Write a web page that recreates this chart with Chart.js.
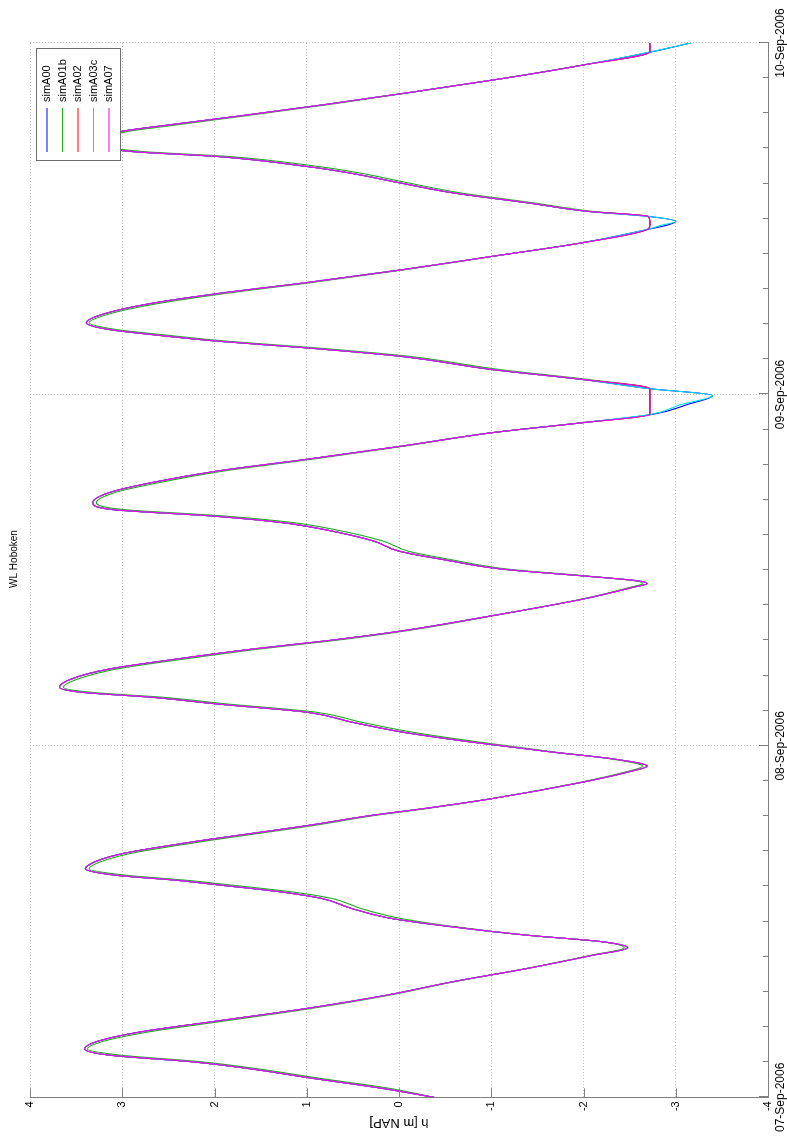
<!DOCTYPE html>
<html>
<head>
<meta charset="utf-8">
<title>WL Hoboken</title>
<script src="https://cdn.jsdelivr.net/npm/chart.js@4.4.1/dist/chart.umd.min.js"></script>
<style>
    html, body { margin: 0; padding: 0; background: #fff; overflow: hidden; }
    /* the figure is drawn landscape and then turned a quarter to the left */
    #wrap {
        position: absolute; left: 0; top: 0;
        width: 1137px; height: 787px;
        transform-origin: 0 0;
        transform: translateY(1137px) rotate(-90deg);
    }
</style>
</head>
<body>
<div id="wrap"><canvas id="wlChart" width="1137" height="787"></canvas></div>
<script>
// hours after 07-Sep-2006 00:00
var hours = [
    0, 0.61, 1.30, 1.98, 2.43, 2.88, 3.30, 3.80, 4.48, 5.16,
    6.07, 6.98, 7.89, 8.80, 9.70, 10.21, 10.62, 11.07, 11.64, 12.20,
    12.89, 13.57, 14.02, 14.48, 14.82, 15.16, 15.61, 16.07, 16.64, 17.43,
    18.57, 19.25, 19.70, 20.39, 21.52, 22.21, 22.62, 23.11, 23.57, 24.25,
    24.94, 25.62, 26.30, 26.86, 27.32, 27.66, 28.00, 28.57, 29.25, 29.93,
    30.61, 31.18, 31.86, 32.89, 34.02, 34.82, 35.09, 35.27, 35.61, 36.07,
    36.70, 37.30, 38.00, 38.80, 39.25, 39.70, 40.16, 40.62, 41.30, 41.98,
    42.77, 43.57, 44.48, 45.39, 46.07, 46.64, 47.30, 47.93, 48.39, 49.02,
    49.70, 50.61, 51.18, 51.64, 52.09, 52.43, 52.89, 53.50, 54.20, 54.90,
    55.64, 56.52, 57.43, 58.36, 59.30, 59.55, 59.82, 60.16, 60.50, 61.09,
    61.77, 62.45, 63.14, 63.57, 64.25, 64.59, 65.20, 65.95, 66.40, 67.00,
    67.80, 68.70, 69.60, 70.50, 71.41, 72.00
];

// water level h [m NAP] per run
var simA00 = [
    -0.38, 0.18, 0.94, 1.65, 2.25, 3.14, 3.41, 3.28, 2.79, 2.03,
    1.00, 0.13, -0.58, -1.39, -2.10, -2.48, -2.21, -1.39, -0.58, 0.07,
    0.51, 0.83, 1.27, 1.92, 2.41, 3.06, 3.40, 3.30, 3.00, 2.25,
    0.98, 0.30, -0.25, -1.00, -1.99, -2.48, -2.69, -2.32, -1.67, -0.80,
    -0.04, 0.51, 1.00, 1.97, 2.68, 3.44, 3.68, 3.55, 3.14, 2.41,
    1.59, 0.78, -0.04, -1.01, -1.99, -2.53, -2.69, -2.59, -1.99, -1.12,
    -0.50, 0.00, 0.28, 0.83, 1.27, 2.03, 3.14, 3.32, 3.14, 2.68,
    1.97, 1.00, -0.04, -1.01, -1.99, -2.75, -3.12, -3.40, -2.72, -1.99,
    -1.01, -0.01, 1.00, 1.97, 2.68, 3.14, 3.39, 3.20, 2.70, 1.95,
    1.00, -0.04, -1.01, -1.99, -2.72, -2.90, -3.00, -2.70, -2.05, -1.39,
    -0.58, -0.01, 0.55, 1.00, 1.97, 2.90, 3.38, 3.02, 2.50, 1.75,
    0.80, -0.20, -1.15, -2.00, -2.75, -3.16
];
var simA01b = [
    -0.38, 0.10, 0.86, 1.57, 2.15, 3.02, 3.38, 3.22, 2.70, 1.95,
    0.95, 0.10, -0.60, -1.39, -2.08, -2.44, -2.20, -1.40, -0.62, -0.03,
    0.41, 0.72, 1.15, 1.80, 2.30, 2.95, 3.36, 3.24, 2.92, 2.17,
    0.92, 0.26, -0.28, -1.00, -1.97, -2.45, -2.64, -2.30, -1.70, -0.88,
    -0.14, 0.41, 0.90, 1.86, 2.56, 3.34, 3.64, 3.48, 3.06, 2.33,
    1.52, 0.72, -0.08, -1.03, -1.98, -2.50, -2.64, -2.56, -2.03, -1.18,
    -0.58, -0.10, 0.18, 0.72, 1.15, 1.90, 3.02, 3.28, 3.08, 2.60,
    1.90, 0.95, -0.07, -1.02, -1.98, -2.72, -2.72, -2.72, -2.72, -2.05,
    -1.09, -0.10, 0.90, 1.87, 2.58, 3.06, 3.36, 3.14, 2.62, 1.88,
    0.95, -0.07, -1.02, -1.98, -2.70, -2.72, -2.72, -2.70, -2.10, -1.45,
    -0.66, -0.10, 0.44, 0.88, 1.85, 2.78, 3.34, 2.95, 2.42, 1.70,
    0.76, -0.22, -1.15, -1.99, -2.72, -2.72
];
var simA02 = [
    -0.38, 0.18, 0.94, 1.65, 2.25, 3.14, 3.41, 3.28, 2.79, 2.03,
    1.00, 0.13, -0.58, -1.39, -2.10, -2.48, -2.21, -1.39, -0.58, 0.07,
    0.51, 0.83, 1.27, 1.92, 2.41, 3.06, 3.40, 3.30, 3.00, 2.25,
    0.98, 0.30, -0.25, -1.00, -1.99, -2.48, -2.69, -2.32, -1.67, -0.80,
    -0.04, 0.51, 1.00, 1.97, 2.68, 3.44, 3.68, 3.55, 3.14, 2.41,
    1.59, 0.78, -0.04, -1.01, -1.99, -2.53, -2.69, -2.59, -1.99, -1.12,
    -0.50, 0.00, 0.28, 0.83, 1.27, 2.03, 3.14, 3.32, 3.14, 2.68,
    1.97, 1.00, -0.04, -1.01, -1.99, -2.72, -2.72, -2.72, -2.72, -1.99,
    -1.01, -0.01, 1.00, 1.97, 2.68, 3.14, 3.39, 3.20, 2.70, 1.95,
    1.00, -0.04, -1.01, -1.99, -2.70, -2.72, -2.72, -2.70, -2.05, -1.39,
    -0.58, -0.01, 0.55, 1.00, 1.97, 2.90, 3.38, 3.02, 2.50, 1.75,
    0.80, -0.20, -1.15, -2.00, -2.72, -2.72
];
var simA03c = [
    -0.38, 0.18, 0.94, 1.65, 2.25, 3.14, 3.41, 3.28, 2.79, 2.03,
    1.00, 0.13, -0.58, -1.39, -2.10, -2.48, -2.21, -1.39, -0.58, 0.07,
    0.51, 0.83, 1.27, 1.92, 2.41, 3.06, 3.40, 3.30, 3.00, 2.25,
    0.98, 0.30, -0.25, -1.00, -1.99, -2.48, -2.69, -2.32, -1.67, -0.80,
    -0.04, 0.51, 1.00, 1.97, 2.68, 3.44, 3.68, 3.55, 3.14, 2.41,
    1.59, 0.78, -0.04, -1.01, -1.99, -2.53, -2.69, -2.59, -1.99, -1.12,
    -0.50, 0.00, 0.28, 0.83, 1.27, 2.03, 3.14, 3.32, 3.14, 2.68,
    1.97, 1.00, -0.04, -1.01, -1.99, -2.73, -3.05, -3.40, -2.72, -1.99,
    -1.01, -0.01, 1.00, 1.97, 2.68, 3.14, 3.39, 3.20, 2.70, 1.95,
    1.00, -0.04, -1.01, -1.99, -2.71, -2.84, -3.00, -2.70, -2.05, -1.39,
    -0.58, -0.01, 0.55, 1.00, 1.97, 2.90, 3.38, 3.02, 2.50, 1.75,
    0.80, -0.20, -1.15, -2.00, -2.74, -3.16
];
var simA07 = [
    -0.38, 0.18, 0.94, 1.65, 2.25, 3.14, 3.41, 3.28, 2.79, 2.03,
    1.00, 0.13, -0.58, -1.39, -2.10, -2.48, -2.21, -1.39, -0.58, 0.07,
    0.51, 0.83, 1.27, 1.92, 2.41, 3.06, 3.40, 3.30, 3.00, 2.25,
    0.98, 0.30, -0.25, -1.00, -1.99, -2.48, -2.69, -2.32, -1.67, -0.80,
    -0.04, 0.51, 1.00, 1.97, 2.68, 3.44, 3.68, 3.55, 3.14, 2.41,
    1.59, 0.78, -0.04, -1.01, -1.99, -2.53, -2.69, -2.59, -1.99, -1.12,
    -0.50, 0.00, 0.28, 0.83, 1.27, 2.03, 3.14, 3.32, 3.14, 2.68,
    1.97, 1.00, -0.04, -1.01, -1.99, -2.72, -2.72, -2.72, -2.72, -1.99,
    -1.01, -0.01, 1.00, 1.97, 2.68, 3.14, 3.39, 3.20, 2.70, 1.95,
    1.00, -0.04, -1.01, -1.99, -2.70, -2.72, -2.72, -2.70, -2.05, -1.39,
    -0.58, -0.01, 0.55, 1.00, 1.97, 2.90, 3.38, 3.02, 2.50, 1.75,
    0.80, -0.20, -1.15, -2.00, -2.72, -2.72
];

var runNames = ['simA00', 'simA01b', 'simA02', 'simA03c', 'simA07'];
var runColors = ['#0000ff', '#22aa22', '#ff0000', '#00e0e8', '#ee00ee'];
var runValues = [simA00, simA01b, simA02, simA03c, simA07];

var dateTicks = [0, 24, 48, 72];
var dateLabels = ['07-Sep-2006', '08-Sep-2006', '09-Sep-2006', '10-Sep-2006'];
var minorStep = 2.4;   // small marks on the time axis
var hTicks = [-4, -3, -2, -1, 0, 1, 2, 3, 4];

var fontFamily = '"Liberation Sans", Arial, Helvetica, sans-serif';
var axisColor = '#808080';

function points(values) {
    return hours.map(function (t, i) { return {x: t, y: values[i]}; });
}

// inward tick marks, title and the boxed legend, drawn over the lines
var matlabLook = {
    id: 'matlabLook',
    afterDatasetsDraw: function (chart) {
        var ctx = chart.ctx;
        var xs = chart.scales.x, ys = chart.scales.y;
        var area = chart.chartArea;
        ctx.save();
        ctx.strokeStyle = axisColor;
        ctx.lineWidth = 1;
        ctx.beginPath();
        for (var i = 0; i * minorStep <= 72.001; i++) {
            var px = Math.round(xs.getPixelForValue(i * minorStep)) + 0.5;
            var len = (i % 10 === 0) ? 9 : 5;
            ctx.moveTo(px, area.bottom);
            ctx.lineTo(px, area.bottom - len);
        }
        hTicks.forEach(function (v) {
            var py = Math.round(ys.getPixelForValue(v)) + 0.5;
            ctx.moveTo(area.left, py);
            ctx.lineTo(area.left + 9, py);
        });
        ctx.stroke();

        // title
        ctx.fillStyle = '#000';
        ctx.font = '10px ' + fontFamily;
        ctx.textAlign = 'center';
        ctx.textBaseline = 'middle';
        ctx.fillText('WL Hoboken', 578, 14);

        // legend box, top right of the plot
        var lx = 976.5, ly = 36.5, lw = 112, lh = 84;
        ctx.fillStyle = '#fff';
        ctx.fillRect(lx, ly, lw, lh);
        ctx.strokeStyle = '#6e6e6e';
        ctx.strokeRect(lx, ly, lw, lh);
        ctx.font = '11px ' + fontFamily;
        ctx.textAlign = 'left';
        runNames.forEach(function (name, k) {
            var ry = 47 + k * 15.5;
            ctx.strokeStyle = runColors[k];
            ctx.beginPath();
            ctx.moveTo(985, ry);
            ctx.lineTo(1029, ry);
            ctx.stroke();
            ctx.fillStyle = '#000';
            ctx.fillText(name, 1035, ry);
        });
        ctx.restore();
    }
};

var ctx = document.getElementById('wlChart').getContext('2d');
var config = {
    type: 'line',
    data: {
        datasets: runNames.map(function (name, k) {
            return {
                label: name,
                data: points(runValues[k]),
                borderColor: runColors[k],
                backgroundColor: runColors[k],
                borderWidth: 1.1,
                pointRadius: 0,
                fill: false,
                cubicInterpolationMode: 'monotone',
                // later runs are plotted on top, as in the original figure
                order: runNames.length - k
            };
        })
    },
    options: {
        responsive: false,
        animation: false,
        devicePixelRatio: 1,
        layout: {padding: {top: 30, right: 43, left: 0, bottom: 0}},
        plugins: {
            legend: {display: false},
            title: {display: false},
            tooltip: {enabled: false}
        },
        scales: {
            x: {
                type: 'linear',
                min: 0,
                max: 72,
                afterBuildTicks: function (scale) {
                    scale.ticks = dateTicks.map(function (v) { return {value: v}; });
                },
                afterFit: function (scale) { scale.height = 19; },
                grid: {color: '#c4c4c4', lineWidth: 1, drawTicks: false},
                border: {display: true, color: axisColor, width: 1, dash: [1, 2]},
                ticks: {
                    autoSkip: false,
                    maxRotation: 0,
                    padding: 5,
                    color: '#000',
                    font: {family: fontFamily, size: 12},
                    callback: function (value, index) { return dateLabels[index]; }
                }
            },
            y: {
                min: -4,
                max: 4,
                afterBuildTicks: function (scale) {
                    scale.ticks = hTicks.map(function (v) { return {value: v}; });
                },
                afterFit: function (scale) { scale.width = 38; },
                grid: {color: '#c4c4c4', lineWidth: 1, drawTicks: false},
                border: {display: true, color: axisColor, width: 1, dash: [1, 2]},
                ticks: {
                    padding: 4,
                    color: '#000',
                    font: {family: fontFamily, size: 11}
                },
                title: {
                    display: true,
                    text: 'h [m NAP]',
                    color: '#000',
                    font: {family: fontFamily, size: 13},
                    padding: {top: 5, bottom: 0}
                }
            }
        }
    },
    plugins: [matlabLook]
};
window.wlChart = new Chart(ctx, config);
</script>
</body>
</html>
